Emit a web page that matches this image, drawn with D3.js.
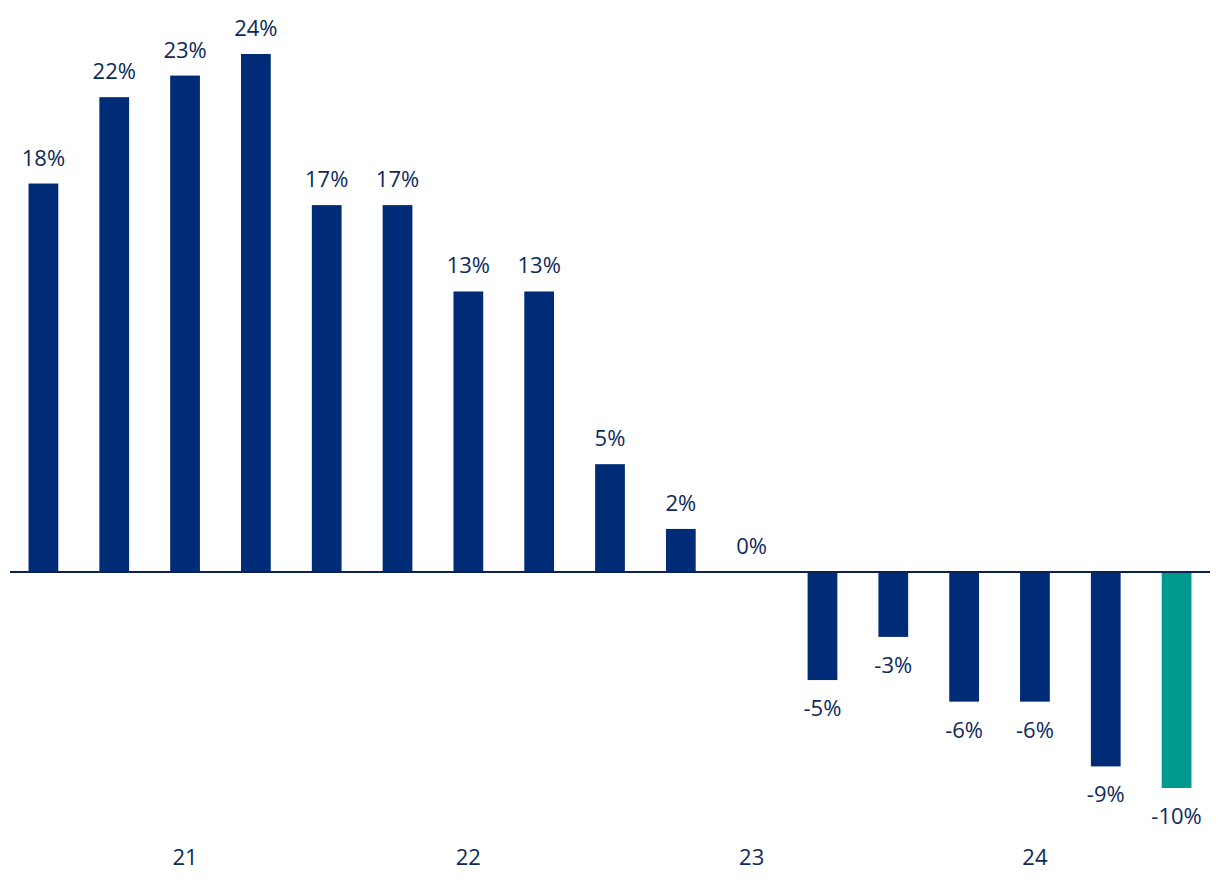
<!DOCTYPE html>
<html>
<head>
<meta charset="utf-8">
<script src="https://cdn.jsdelivr.net/npm/d3@7"></script>
<style>
  body { margin: 0; background: #fff; }
  svg text { font-family: "Open Sans", "Noto Sans", sans-serif; }
</style>
</head>
<body>
<svg id="chart" width="1220" height="896"></svg>
<script>
// quarters from Q1 2021 to Q1 2025
const quarters = ["Q1-21", "Q2-21", "Q3-21", "Q4-21", "Q1-22", "Q2-22", "Q3-22", "Q4-22",
                  "Q1-23", "Q2-23", "Q3-23", "Q4-23", "Q1-24", "Q2-24", "Q3-24", "Q4-24", "Q1-25"];
const growth = [18, 22, 23, 24, 17, 17, 13, 13, 5, 2, 0, -5, -3, -6, -6, -9, -10];
const tickQuarters = ["Q3-21", "Q3-22", "Q3-23", "Q3-24"];
const tickLabels = ["21", "22", "23", "24"];

const navy = "#002b76", teal = "#009990", textCol = "#0e2a5c";
const svg = d3.select("#chart");

const xScale = d3.scaleBand()
    .domain(quarters)
    .range([8, 1212])
    .paddingInner(0.58)
    .paddingOuter(0.29);
const yScale = d3.scaleLinear()
    .domain([-10, 24])
    .range([788, 54]);

const data = quarters.map((q, i) => ({q: q, v: growth[i], last: i === quarters.length - 1}));

// bars
svg.selectAll(".bar")
    .data(data.filter(d => d.v !== 0))
    .enter().append("rect")
    .attr("class", "bar")
    .attr("x", d => xScale(d.q))
    .attr("width", xScale.bandwidth())
    .attr("y", d => yScale(Math.max(0, d.v)))
    .attr("height", d => Math.abs(yScale(d.v) - yScale(0)))
    .attr("fill", d => d.last ? teal : navy);

// zero line
svg.append("line")
    .attr("x1", 10).attr("x2", 1210)
    .attr("y1", yScale(0)).attr("y2", yScale(0))
    .attr("stroke", "#0c2350")
    .attr("stroke-width", 2);

// value labels
svg.selectAll(".val")
    .data(data)
    .enter().append("text")
    .attr("class", "val")
    .attr("x", d => xScale(d.q) + xScale.bandwidth() / 2)
    .attr("y", d => d.v >= 0 ? yScale(d.v) - 18 : yScale(d.v) + 36)
    .attr("text-anchor", "middle")
    .attr("font-size", 22)
    .attr("fill", textCol)
    .text(d => d.v + "%");

// year axis
const xAxis = d3.axisBottom(xScale)
    .tickValues(tickQuarters)
    .tickFormat(d => tickLabels[tickQuarters.indexOf(d)])
    .tickSize(0)
    .tickPadding(0);
svg.append("g")
    .attr("transform", "translate(0,849)")
    .call(xAxis)
    .call(g => g.select(".domain").remove())
    .selectAll("text")
    .attr("font-size", 22)
    .attr("font-family", "Open Sans, Noto Sans, sans-serif")
    .attr("fill", textCol);
</script>
</body>
</html>
